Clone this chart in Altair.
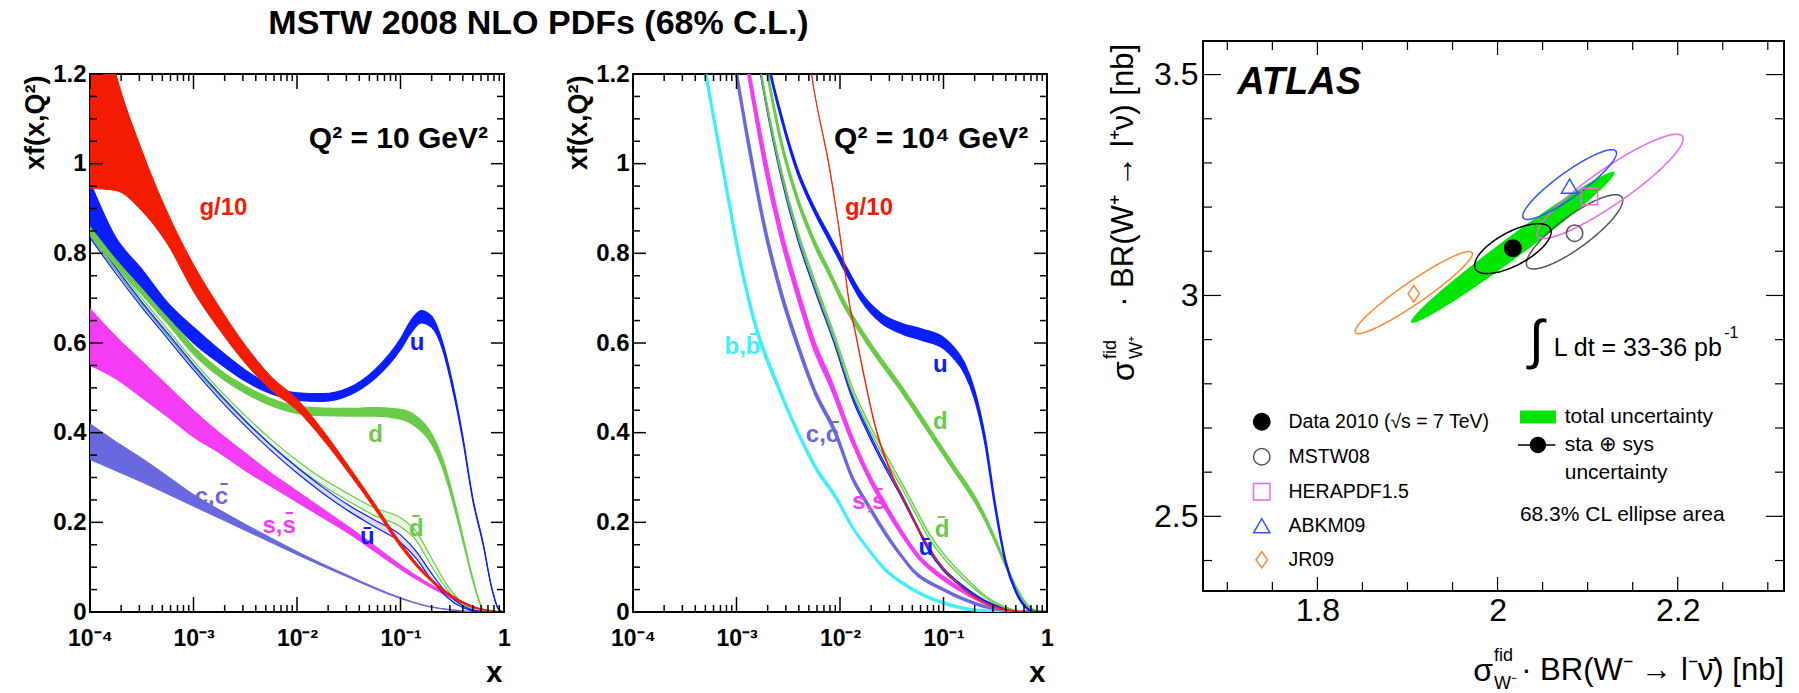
import math
import numpy as np
import pandas as pd
import altair as alt

FONT = "Liberation Sans"
TITLE = "MSTW 2008 NLO PDFs (68% C.L.)"

# ---------------- Panel 1 : Q^2 = 10 GeV^2 (log10 x, lower edge, upper edge) ----------------
g1_lx = [-4, -3.75, -3.5, -3.25, -3, -2.75, -2.5, -2.25, -2, -1.75, -1.5, -1.25, -1, -0.75, -0.5, -0.25, 0]
g1_lo = [0.945, 0.94, 0.895, 0.82, 0.715, 0.63, 0.555, 0.495, 0.45, 0.385, 0.31, 0.23, 0.145, 0.078, 0.032, 0.007, 0]
g1_hi = [1.45, 1.2, 1.03, 0.89, 0.775, 0.68, 0.595, 0.525, 0.475, 0.405, 0.325, 0.242, 0.155, 0.085, 0.037, 0.009, 0]

u1_lx = [-4, -3.75, -3.5, -3.25, -3, -2.75, -2.5, -2.25, -2, -1.75, -1.5, -1.25, -1, -0.9, -0.8, -0.7, -0.6, -0.5, -0.4, -0.3, -0.2, -0.12, -0.05, 0]
u1_lo = [0.863, 0.79, 0.725, 0.66, 0.60, 0.555, 0.515, 0.487, 0.472, 0.47, 0.483, 0.52, 0.585, 0.622, 0.645, 0.635, 0.59, 0.50, 0.385, 0.247, 0.148, 0.054, 0.005, 0]
u1_hi = [0.96, 0.835, 0.765, 0.69, 0.635, 0.585, 0.54, 0.505, 0.489, 0.487, 0.50, 0.54, 0.61, 0.65, 0.672, 0.66, 0.607, 0.515, 0.395, 0.253, 0.152, 0.056, 0.006, 0]

d1_lx = [-4, -3.75, -3.5, -3.25, -3, -2.75, -2.5, -2.25, -2, -1.75, -1.5, -1.25, -1, -0.85, -0.7, -0.6, -0.5, -0.4, -0.3, -0.25, -0.2, 0]
d1_lo = [0.843, 0.772, 0.708, 0.643, 0.575, 0.525, 0.488, 0.46, 0.443, 0.438, 0.437, 0.437, 0.43, 0.413, 0.375, 0.325, 0.25, 0.16, 0.068, 0.03, 0.005, 0]
d1_hi = [0.86, 0.79, 0.725, 0.66, 0.592, 0.541, 0.504, 0.476, 0.459, 0.455, 0.454, 0.456, 0.452, 0.437, 0.398, 0.347, 0.268, 0.172, 0.074, 0.033, 0.006, 0]

ub1_lx = [-4, -3.75, -3.5, -3.25, -3, -2.75, -2.5, -2.25, -2, -1.75, -1.5, -1.25, -1, -0.85, -0.7, -0.55, -0.4, -0.25, -0.1, 0]
ub1_lo = [0.835, 0.755, 0.68, 0.61, 0.54, 0.475, 0.415, 0.36, 0.31, 0.265, 0.225, 0.19, 0.155, 0.12, 0.072, 0.033, 0.01, 0.001, 0, 0]
ub1_hi = [0.848, 0.768, 0.692, 0.622, 0.552, 0.487, 0.427, 0.372, 0.323, 0.278, 0.238, 0.205, 0.172, 0.136, 0.086, 0.042, 0.014, 0.002, 0, 0]

db1_lx = [-4, -3.75, -3.5, -3.25, -3, -2.75, -2.5, -2.25, -2, -1.75, -1.5, -1.25, -1, -0.85, -0.7, -0.55, -0.4, -0.25, -0.1, 0]
db1_lo = [0.84, 0.762, 0.687, 0.617, 0.547, 0.483, 0.425, 0.372, 0.324, 0.282, 0.247, 0.215, 0.19, 0.16, 0.102, 0.05, 0.015, 0.002, 0, 0]
db1_hi = [0.853, 0.775, 0.70, 0.63, 0.56, 0.496, 0.438, 0.385, 0.338, 0.297, 0.263, 0.232, 0.21, 0.18, 0.12, 0.06, 0.02, 0.003, 0, 0]

s1_lx = [-4, -3.75, -3.5, -3.25, -3, -2.75, -2.5, -2.25, -2, -1.75, -1.5, -1.25, -1, -0.75, -0.5, -0.25, 0]
s1_lo = [0.55, 0.52, 0.478, 0.435, 0.39, 0.355, 0.315, 0.28, 0.245, 0.21, 0.175, 0.135, 0.095, 0.06, 0.03, 0.006, 0]
s1_hi = [0.677, 0.615, 0.56, 0.505, 0.45, 0.40, 0.355, 0.31, 0.27, 0.23, 0.19, 0.148, 0.105, 0.067, 0.035, 0.008, 0]

c1_lx = [-4, -3.75, -3.5, -3.25, -3, -2.75, -2.5, -2.25, -2, -1.75, -1.5, -1.25, -1, -0.75, -0.5, -0.25, 0]
c1_lo = [0.34, 0.315, 0.29, 0.263, 0.236, 0.209, 0.182, 0.155, 0.128, 0.102, 0.077, 0.052, 0.03, 0.013, 0.004, 0.0, 0]
c1_hi = [0.42, 0.38, 0.343, 0.303, 0.262, 0.228, 0.196, 0.165, 0.135, 0.107, 0.081, 0.055, 0.032, 0.014, 0.005, 0.001, 0]

# ---------------- Panel 2 : Q^2 = 10^4 GeV^2 ----------------
b2_lx = [-3.4, -3.296, -3.12, -2.958, -2.8, -2.64, -2.41, -2.22, -2.043, -1.882, -1.72, -1.56, -1.4, -1.2, -1.0, -0.8, -0.6, -0.4, 0]
b2_lo = [1.33, 1.195, 0.97, 0.77, 0.622, 0.523, 0.40, 0.314, 0.255, 0.189, 0.137, 0.093, 0.064, 0.037, 0.019, 0.007, 0.002, 0, 0]
b2_hi = [1.35, 1.205, 0.98, 0.778, 0.63, 0.529, 0.404, 0.318, 0.259, 0.191, 0.139, 0.095, 0.066, 0.039, 0.021, 0.009, 0.003, 0.001, 0]

c2_lx = [-3.1, -3.0, -2.86, -2.73, -2.57, -2.41, -2.25, -2.043, -1.882, -1.72, -1.56, -1.4, -1.3, -1.0, -0.8, -0.6, -0.4, -0.2, 0]
c2_lo = [1.33, 1.195, 1.008, 0.854, 0.707, 0.592, 0.492, 0.396, 0.298, 0.233, 0.173, 0.122, 0.093, 0.049, 0.027, 0.011, 0.003, 0, 0]
c2_hi = [1.35, 1.205, 1.02, 0.864, 0.717, 0.60, 0.498, 0.402, 0.302, 0.237, 0.177, 0.124, 0.095, 0.051, 0.029, 0.013, 0.004, 0.001, 0]

s2_lx = [-2.98, -2.88, -2.733, -2.57, -2.41, -2.25, -2.09, -1.882, -1.72, -1.56, -1.4, -1.24, -1.11, -1.0, -0.8, -0.6, -0.4, -0.2, 0]
s2_lo = [1.32, 1.19, 1.0, 0.832, 0.702, 0.586, 0.502, 0.378, 0.297, 0.23, 0.171, 0.12, 0.091, 0.072, 0.043, 0.019, 0.004, 0, 0]
s2_hi = [1.34, 1.21, 1.026, 0.854, 0.722, 0.604, 0.518, 0.39, 0.307, 0.24, 0.179, 0.126, 0.097, 0.078, 0.047, 0.021, 0.006, 0.001, 0]

ub2_lx = [-2.86, -2.765, -2.57, -2.41, -2.25, -2.05, -1.882, -1.722, -1.56, -1.4, -1.272, -1.144, -1.0, -0.8, -0.6, -0.4, -0.2, 0]
ub2_lo = [1.33, 1.195, 0.97, 0.831, 0.722, 0.595, 0.476, 0.394, 0.32, 0.253, 0.195, 0.137, 0.092, 0.053, 0.024, 0.006, 0.0, 0]
ub2_hi = [1.35, 1.205, 0.98, 0.841, 0.732, 0.605, 0.484, 0.402, 0.328, 0.261, 0.201, 0.143, 0.098, 0.057, 0.026, 0.008, 0.001, 0]

db2_lx = [-2.86, -2.765, -2.57, -2.41, -2.25, -2.05, -1.882, -1.722, -1.56, -1.4, -1.272, -1.144, -1.0, -0.8, -0.6, -0.4, -0.2, 0]
db2_lo = [1.34, 1.20, 0.978, 0.84, 0.732, 0.605, 0.49, 0.41, 0.34, 0.275, 0.22, 0.165, 0.12, 0.072, 0.033, 0.009, 0.001, 0]
db2_hi = [1.36, 1.212, 0.99, 0.852, 0.744, 0.617, 0.502, 0.422, 0.352, 0.287, 0.232, 0.177, 0.13, 0.08, 0.037, 0.011, 0.001, 0]

d2_lx = [-2.8, -2.70, -2.57, -2.41, -2.25, -2.09, -1.979, -1.722, -1.4, -1.08, -0.887, -0.694, -0.6, -0.5, -0.4, -0.3, -0.2, -0.1, 0]
d2_lo = [1.33, 1.193, 1.043, 0.914, 0.819, 0.744, 0.69, 0.593, 0.489, 0.378, 0.311, 0.244, 0.205, 0.156, 0.102, 0.053, 0.017, 0.002, 0]
d2_hi = [1.35, 1.207, 1.057, 0.926, 0.831, 0.756, 0.702, 0.605, 0.501, 0.39, 0.323, 0.256, 0.215, 0.164, 0.108, 0.057, 0.019, 0.003, 0]

u2_lx = [-2.78, -2.67, -2.57, -2.41, -2.25, -2.09, -1.93, -1.8, -1.6, -1.4, -1.2, -1.0, -0.9, -0.8, -0.7, -0.6, -0.5, -0.4, -0.3, -0.2, -0.12, 0]
u2_lo = [1.33, 1.195, 1.102, 0.978, 0.893, 0.822, 0.751, 0.697, 0.645, 0.621, 0.606, 0.588, 0.566, 0.534, 0.476, 0.378, 0.23, 0.109, 0.043, 0.009, 0, 0]
u2_hi = [1.35, 1.205, 1.112, 0.988, 0.903, 0.834, 0.765, 0.713, 0.665, 0.643, 0.63, 0.612, 0.59, 0.556, 0.494, 0.392, 0.24, 0.115, 0.047, 0.011, 0.001, 0]

g2_lx = [-2.35, -2.275, -2.09, -1.96, -1.915, -1.85, -1.754, -1.658, -1.53, -1.4, -1.272, -1.144, -1.015, -0.8, -0.6, -0.4, -0.2, 0]
g2_lo = [1.32, 1.197, 0.972, 0.771, 0.693, 0.619, 0.508, 0.41, 0.321, 0.255, 0.196, 0.144, 0.10, 0.049, 0.019, 0.004, 0, 0]
g2_hi = [1.34, 1.203, 0.978, 0.777, 0.699, 0.625, 0.514, 0.416, 0.327, 0.259, 0.20, 0.148, 0.102, 0.051, 0.021, 0.006, 0.001, 0]

# curve labels (text, log10 x, y, colour)
lab1_text = ["g/10", "u", "d", "d\u0304", "u\u0304", "s,s\u0304", "c,c\u0304"]
lab1_lx = [-2.711, -0.839, -1.241, -0.846, -1.321, -2.173, -2.827]
lab1_y = [0.901, 0.599, 0.395, 0.185, 0.167, 0.192, 0.256]
lab2_text = ["g/10", "u", "d", "d\u0304", "u\u0304", "s,s\u0304", "c,c\u0304", "b,b\u0304"]
lab2_lx = [-1.72, -1.031, -1.031, -1.014, -1.17, -1.72, -2.169, -2.942]
lab2_y = [0.902, 0.552, 0.424, 0.183, 0.143, 0.246, 0.395, 0.591]

RED, BLUE, GREEN, MAG, PURP, CYAN = "#f41c00", "#0a1eff", "#6acb48", "#f43cf4", "#6a68de", "#3ef0fa"
lab1_col = [RED, BLUE, GREEN, GREEN, BLUE, MAG, PURP]
lab2_col = [RED, BLUE, GREEN, GREEN, BLUE, MAG, PURP, CYAN]

# ---------------- Panel 3 : ATLAS W+ vs W- ----------------
ell_cx = [2.017, 2.017, 2.0855, 2.125, 2.080, 1.907]
ell_cy = [3.109, 3.106, 3.144, 3.247, 3.251, 3.0066]
ell_sx = [0.113, 0.0425, 0.0535, 0.081, 0.052, 0.065]
ell_sy = [0.171, 0.0565, 0.084, 0.118, 0.079, 0.093]
ell_rho = [0.985, 0.67, 0.85, 0.91, 0.90, 0.945]
ell_col = ["#00e600", "black", "#555555", "#ee66ee", "#3355ff", "#ff8833"]

pt_name = ["Data 2010 (\u221as = 7 TeV)", "MSTW08", "HERAPDF1.5", "ABKM09", "JR09"]
pt_x = [2.017, 2.0855, 2.102, 2.080, 1.907]
pt_y = [3.107, 3.141, 3.224, 3.2475, 3.004]
pt_stroke = ["black", "#555555", "#ee66ee", "#3355ff", "#ff8833"]
pt_fill = ["black", "transparent", "transparent", "transparent", "transparent"]
pt_shape = ["circle", "circle", "square", "triangle-up", "M0,-1L0.7,0L0,1L-0.7,0Z"]

# right-hand key texts
t3_text = ["total uncertainty", "sta \u2295 sys", "uncertainty", "68.3% CL ellipse area", "L dt = 33-36 pb"]
t3_x = [2.0746, 2.0746, 2.0746, 2.0248, 2.0625]
t3_y = [2.7249, 2.6615, 2.5982, 2.503, 2.881]
t3_size = [21, 21, 21, 21, 25]

W1, H1 = 414, 538
W3, H3 = 581, 550

x_major = [1e-4, 1e-3, 1e-2, 1e-1, 1]
x_minor = [k * 10.0 ** e for e in range(-4, 0) for k in range(2, 10)]
y_major = [0, 0.2, 0.4, 0.6, 0.8, 1.0, 1.2]
y_minor = [0.05, 0.1, 0.15, 0.25, 0.3, 0.35, 0.45, 0.5, 0.55, 0.65, 0.7, 0.75, 0.85, 0.9, 0.95, 1.05, 1.1, 1.15]

x3_major = [1.8, 2.0, 2.2]
x3_minor = [1.7, 1.75, 1.85, 1.9, 1.95, 2.05, 2.1, 2.15, 2.25, 2.3]
y3_major = [2.5, 3.0, 3.5]
y3_minor = [2.4, 2.6, 2.7, 2.8, 2.9, 3.1, 3.2, 3.3, 3.4]


def tick_layers(xs, ys, xax, yax, W, H, xmaj, xmin, ymaj, ymin, lx_maj, lx_min, ly_maj, ly_min, sw):
    out = []
    for vals, L in ((xmaj, lx_maj), (xmin, lx_min)):
        df = pd.DataFrame({"x": vals})
        enc = alt.X("x:Q", scale=xs, axis=xax)
        out.append(alt.Chart(df).mark_rule(color="black", strokeWidth=sw).encode(x=enc, y=alt.value(H), y2=alt.value(H - L)))
        out.append(alt.Chart(df).mark_rule(color="black", strokeWidth=sw).encode(x=enc, y=alt.value(0), y2=alt.value(L)))
    for vals, L in ((ymaj, ly_maj), (ymin, ly_min)):
        df = pd.DataFrame({"lo": vals})
        enc = alt.Y("lo:Q", scale=ys, axis=yax)
        out.append(alt.Chart(df).mark_rule(color="black", strokeWidth=sw).encode(y=enc, x=alt.value(0), x2=alt.value(L)))
        out.append(alt.Chart(df).mark_rule(color="black", strokeWidth=sw).encode(y=enc, x=alt.value(W), x2=alt.value(W - L)))
    return out


def band_layers(lx, lo, hi, color, fop, ew, xs, ys, xax, yax):
    df = pd.DataFrame({"x": [10.0 ** v for v in lx], "lo": lo, "hi": hi})
    X = alt.X("x:Q", scale=xs, axis=xax)
    out = []
    if fop > 0:
        out.append(alt.Chart(df).mark_area(color=color, opacity=fop, interpolate="monotone", clip=True)
                   .encode(x=X, y=alt.Y("lo:Q", scale=ys, axis=yax), y2="hi:Q"))
    for col in ("lo", "hi"):
        out.append(alt.Chart(df).mark_line(color=color, strokeWidth=ew, interpolate="monotone", clip=True)
                   .encode(x=X, y=alt.Y(col + ":Q", scale=ys, axis=yax)))
    return out


def pdf_panel(bands, lab_text, lab_lx, lab_y, lab_col, qtext, q_lx):
    xs = alt.Scale(type="log", domain=[1e-4, 1], nice=False)
    ys = alt.Scale(domain=[0, 1.2], nice=False, zero=False)
    xax = alt.Axis(values=x_major,
                   labelExpr="datum.value < 0.0005 ? '10\u207b\u2074' : datum.value < 0.005 ? '10\u207b\u00b3' : datum.value < 0.05 ? '10\u207b\u00b2' : datum.value < 0.5 ? '10\u207b\u00b9' : '1'",
                   labelFont=FONT, labelFontWeight="bold", labelFontSize=23, labelColor="black",
                   labelPadding=15, labelFlush=False, labelOverlap=False,
                   ticks=False, tickSize=0, domain=False, grid=False,
                   title="x", titleFont=FONT, titleFontWeight="bold", titleFontSize=29, titleColor="black",
                   titleAnchor="end", titleAlign="right", titleX=W1 - 2, titleY=60, titleBaseline="middle")
    yax = alt.Axis(values=y_major, labelExpr="format(datum.value, '.1~f')",
                   labelFont=FONT, labelFontWeight="bold", labelFontSize=24, labelColor="black",
                   labelPadding=4, labelFlush=False, labelOverlap=False,
                   ticks=False, tickSize=0, domain=False, grid=False,
                   title="xf(x,Q\u00b2)", titleFont=FONT, titleFontWeight="bold", titleFontSize=27, titleColor="black",
                   titleAngle=270, titleAlign="right", titleBaseline="middle", titleX=-55, titleY=1)
    layers = []
    for (lx, lo, hi, color, fop, ew) in bands:
        layers += band_layers(lx, lo, hi, color, fop, ew, xs, ys, xax, yax)
    layers += tick_layers(xs, ys, xax, yax, W1, H1, x_major, x_minor, y_major, y_minor, 15, 7, 13, 7, 1.5)
    ldf = pd.DataFrame({"x": [10.0 ** v for v in lab_lx], "lo": lab_y, "text": lab_text, "color": lab_col})
    layers.append(alt.Chart(ldf).mark_text(font=FONT, fontWeight="bold", fontSize=24)
                  .encode(x=alt.X("x:Q", scale=xs, axis=xax), y=alt.Y("lo:Q", scale=ys, axis=yax),
                          text="text:N", color=alt.Color("color:N", scale=None)))
    qdf = pd.DataFrame({"x": [10.0 ** q_lx], "lo": [1.055], "text": [qtext]})
    layers.append(alt.Chart(qdf).mark_text(font=FONT, fontWeight="bold", fontSize=30, color="black")
                  .encode(x=alt.X("x:Q", scale=xs, axis=xax), y=alt.Y("lo:Q", scale=ys, axis=yax), text="text:N"))
    return alt.layer(*layers).properties(width=W1, height=H1)


bands1 = [
    (c1_lx, c1_lo, c1_hi, PURP, 1.0, 1.0),
    (s1_lx, s1_lo, s1_hi, MAG, 1.0, 1.0),
    (db1_lx, db1_lo, db1_hi, GREEN, 0.15, 1.2),
    (ub1_lx, ub1_lo, ub1_hi, BLUE, 0.15, 1.2),
    (d1_lx, d1_lo, d1_hi, GREEN, 1.0, 1.2),
    (u1_lx, u1_lo, u1_hi, BLUE, 1.0, 1.2),
    (g1_lx, g1_lo, g1_hi, RED, 1.0, 1.0),
]
bands2 = [
    (b2_lx, b2_lo, b2_hi, CYAN, 1.0, 2.6),
    (c2_lx, c2_lo, c2_hi, PURP, 1.0, 2.6),
    (s2_lx, s2_lo, s2_hi, MAG, 1.0, 2.4),
    (ub2_lx, ub2_lo, ub2_hi, BLUE, 0.3, 1.3),
    (db2_lx, db2_lo, db2_hi, GREEN, 0.3, 1.3),
    (d2_lx, d2_lo, d2_hi, GREEN, 1.0, 1.8),
    (u2_lx, u2_lo, u2_hi, BLUE, 1.0, 1.8),
    (g2_lx, g2_lo, g2_hi, RED, 1.0, 0.8),
]

p1 = pdf_panel(bands1, lab1_text, lab1_lx, lab1_y, lab1_col, "Q\u00b2 = 10 GeV\u00b2", -1.02)
p2 = pdf_panel(bands2, lab2_text, lab2_lx, lab2_y, lab2_col, "Q\u00b2 = 10\u2074 GeV\u00b2", -1.12)

# ---------------- panel 3 ----------------
xs3 = alt.Scale(domain=[1.673, 2.318], nice=False, zero=False)
ys3 = alt.Scale(domain=[2.331, 3.576], nice=False, zero=False)
xax3 = alt.Axis(values=x3_major, labelExpr="format(datum.value, '.1~f')", labelFont=FONT, labelFontSize=32,
                labelColor="black", labelPadding=4, labelFlush=False, ticks=False, tickSize=0, domain=False,
                grid=False, title=None)
yax3 = alt.Axis(values=y3_major, labelExpr="format(datum.value, '.1~f')", labelFont=FONT, labelFontSize=32,
                labelColor="black", labelPadding=5, labelFlush=False, ticks=False, tickSize=0, domain=False,
                grid=False, title=None)
X3 = alt.X("x:Q", scale=xs3, axis=xax3)
Y3 = alt.Y("lo:Q", scale=ys3, axis=yax3)

lay3 = []
cx, cy, sx, sy, r = ell_cx[0], ell_cy[0], ell_sx[0], ell_sy[0], ell_rho[0]
uu = -np.cos(np.linspace(0, np.pi, 181))
gdf = pd.DataFrame({"x": cx + sx * uu,
                    "lo": cy + sy * (r * uu - math.sqrt(1 - r * r) * np.sqrt(np.clip(1 - uu ** 2, 0, None))),
                    "hi": cy + sy * (r * uu + math.sqrt(1 - r * r) * np.sqrt(np.clip(1 - uu ** 2, 0, None)))})
lay3.append(alt.Chart(gdf).mark_area(color=ell_col[0], opacity=1, clip=True).encode(x=X3, y=Y3, y2="hi:Q"))
tt = np.linspace(0, 2 * np.pi, 241)
for k in [5, 2, 3, 4, 1]:
    cx, cy, sx, sy, r = ell_cx[k], ell_cy[k], ell_sx[k], ell_sy[k], ell_rho[k]
    edf = pd.DataFrame({"x": cx + sx * np.cos(tt),
                        "lo": cy + sy * (r * np.cos(tt) + math.sqrt(1 - r * r) * np.sin(tt)),
                        "i": np.arange(len(tt))})
    lay3.append(alt.Chart(edf).mark_line(color=ell_col[k], strokeWidth=1.5, clip=True)
                .encode(x=X3, y=Y3, order=alt.Order("i:Q")))

leg = alt.Legend(orient="none", legendX=49, legendY=371, title=None, labelFont=FONT, labelFontSize=19.5,
                 labelColor="black", labelOffset=17, labelLimit=400, rowPadding=12, symbolSize=270,
                 symbolStrokeWidth=1.5, padding=0)
pdf_ = pd.DataFrame({"x": pt_x, "lo": pt_y, "name": pt_name})
lay3.append(alt.Chart(pdf_).mark_point(size=270, strokeWidth=1.5, opacity=1).encode(
    x=X3, y=Y3,
    shape=alt.Shape("name:N", scale=alt.Scale(domain=pt_name, range=pt_shape), legend=leg),
    stroke=alt.Stroke("name:N", scale=alt.Scale(domain=pt_name, range=pt_stroke), legend=leg),
    fill=alt.Fill("name:N", scale=alt.Scale(domain=pt_name, range=pt_fill), legend=leg)))

key_df = pd.DataFrame({"x": [2.0448], "lo": [t3_y[0]]})
lay3.append(alt.Chart(key_df).mark_point(shape="M-1,-0.36L1,-0.36L1,0.36L-1,0.36Z", size=1296, filled=True,
                                         color=ell_col[0], opacity=1, strokeWidth=0).encode(x=X3, y=Y3))
rule_df = pd.DataFrame({"x": [2.0227], "x2": [2.0642], "lo": [t3_y[1]]})
lay3.append(alt.Chart(rule_df).mark_rule(color="black", strokeWidth=1.5).encode(x=X3, x2="x2:Q", y=Y3))
dot_df = pd.DataFrame({"x": [2.0448], "lo": [t3_y[1]]})
lay3.append(alt.Chart(dot_df).mark_point(size=270, filled=True, color="black", opacity=1).encode(x=X3, y=Y3))

for tx, xx, yy, fs in zip(t3_text, t3_x, t3_y, t3_size):
    lay3.append(alt.Chart(pd.DataFrame({"x": [xx], "lo": [yy], "t": [tx]}))
                .mark_text(font=FONT, fontSize=fs, align="left", baseline="middle", color="black")
                .encode(x=X3, y=Y3, text="t:N"))
lay3.append(alt.Chart(pd.DataFrame({"x": [2.2517], "lo": [2.915], "t": ["-1"]}))
            .mark_text(font=FONT, fontSize=16, align="left", baseline="middle", color="black")
            .encode(x=X3, y=Y3, text="t:N"))
lay3.append(alt.Chart(pd.DataFrame({"x": [2.043], "lo": [2.895], "t": ["\u222b"]}))
            .mark_text(font=FONT, fontSize=54, align="center", baseline="middle", color="black")
            .encode(x=X3, y=Y3, text="t:N"))
lay3.append(alt.Chart(pd.DataFrame({"x": [1.711], "lo": [3.482], "t": ["ATLAS"]}))
            .mark_text(font=FONT, fontSize=38, fontWeight="bold", fontStyle="italic", align="left",
                       baseline="middle", color="black")
            .encode(x=X3, y=Y3, text="t:N"))

lay3 += tick_layers(xs3, ys3, xax3, yax3, W3, H3, x3_major, x3_minor, y3_major, y3_minor, 14, 9, 18, 9, 1.2)


def ptxt(t, x, y, fs, angle=0, align="left", baseline="middle"):
    kw = dict(font=FONT, fontSize=fs, align=align, baseline=baseline, color="black")
    if angle:
        kw["angle"] = angle
    return (alt.Chart(pd.DataFrame({"t": [t]})).mark_text(**kw)
            .encode(text="t:N", x=alt.value(x), y=alt.value(y)))


lay3 += [
    ptxt("\u00b7 BR(W\u207b \u2192 l\u207b\u03bd\u0304) [nb]", W3, H3 + 80, 31, align="right"),
    ptxt("\u03c3", 290, H3 + 80, 32, align="right"),
    ptxt("fid", 291, H3 + 65, 18),
    ptxt("W\u207b", 291, H3 + 93, 18),
    ptxt("\u00b7  BR(W\u207a \u2192 l\u207a\u03bd)  [nb]", -79, 3, 31, angle=270, align="right"),
    ptxt("\u03c3", -79, 340, 32, angle=270, align="left"),
    ptxt("fid", -92, 318, 18, angle=270, align="left"),
    ptxt("W\u207a", -66, 318, 18, angle=270, align="left"),
]

p3 = alt.layer(*lay3).properties(width=W3, height=H3)

# title row above the two PDF panels
tchart = (alt.Chart(pd.DataFrame({"t": [TITLE]}))
          .mark_text(font=FONT, fontSize=34, fontWeight="bold", color="black", align="center", baseline="middle")
          .encode(text="t:N", x=alt.value(448.5), y=alt.value(-17))
          .properties(width=900, height=10, view=alt.ViewBackground(stroke="transparent")))

left = alt.vconcat(tchart, alt.hconcat(p1, p2, spacing=51), spacing=9)
chart = (alt.hconcat(left, p3, spacing=46)
         .resolve_scale(shape="independent", stroke="independent", fill="independent")
         .resolve_legend(shape="independent", stroke="independent", fill="independent")
         .configure_view(stroke="black", strokeWidth=2)
         .properties(padding={"left": 20, "top": 6, "right": 5, "bottom": 2}))

chart.save("out.html", embed_options={"renderer": "svg", "actions": False})
